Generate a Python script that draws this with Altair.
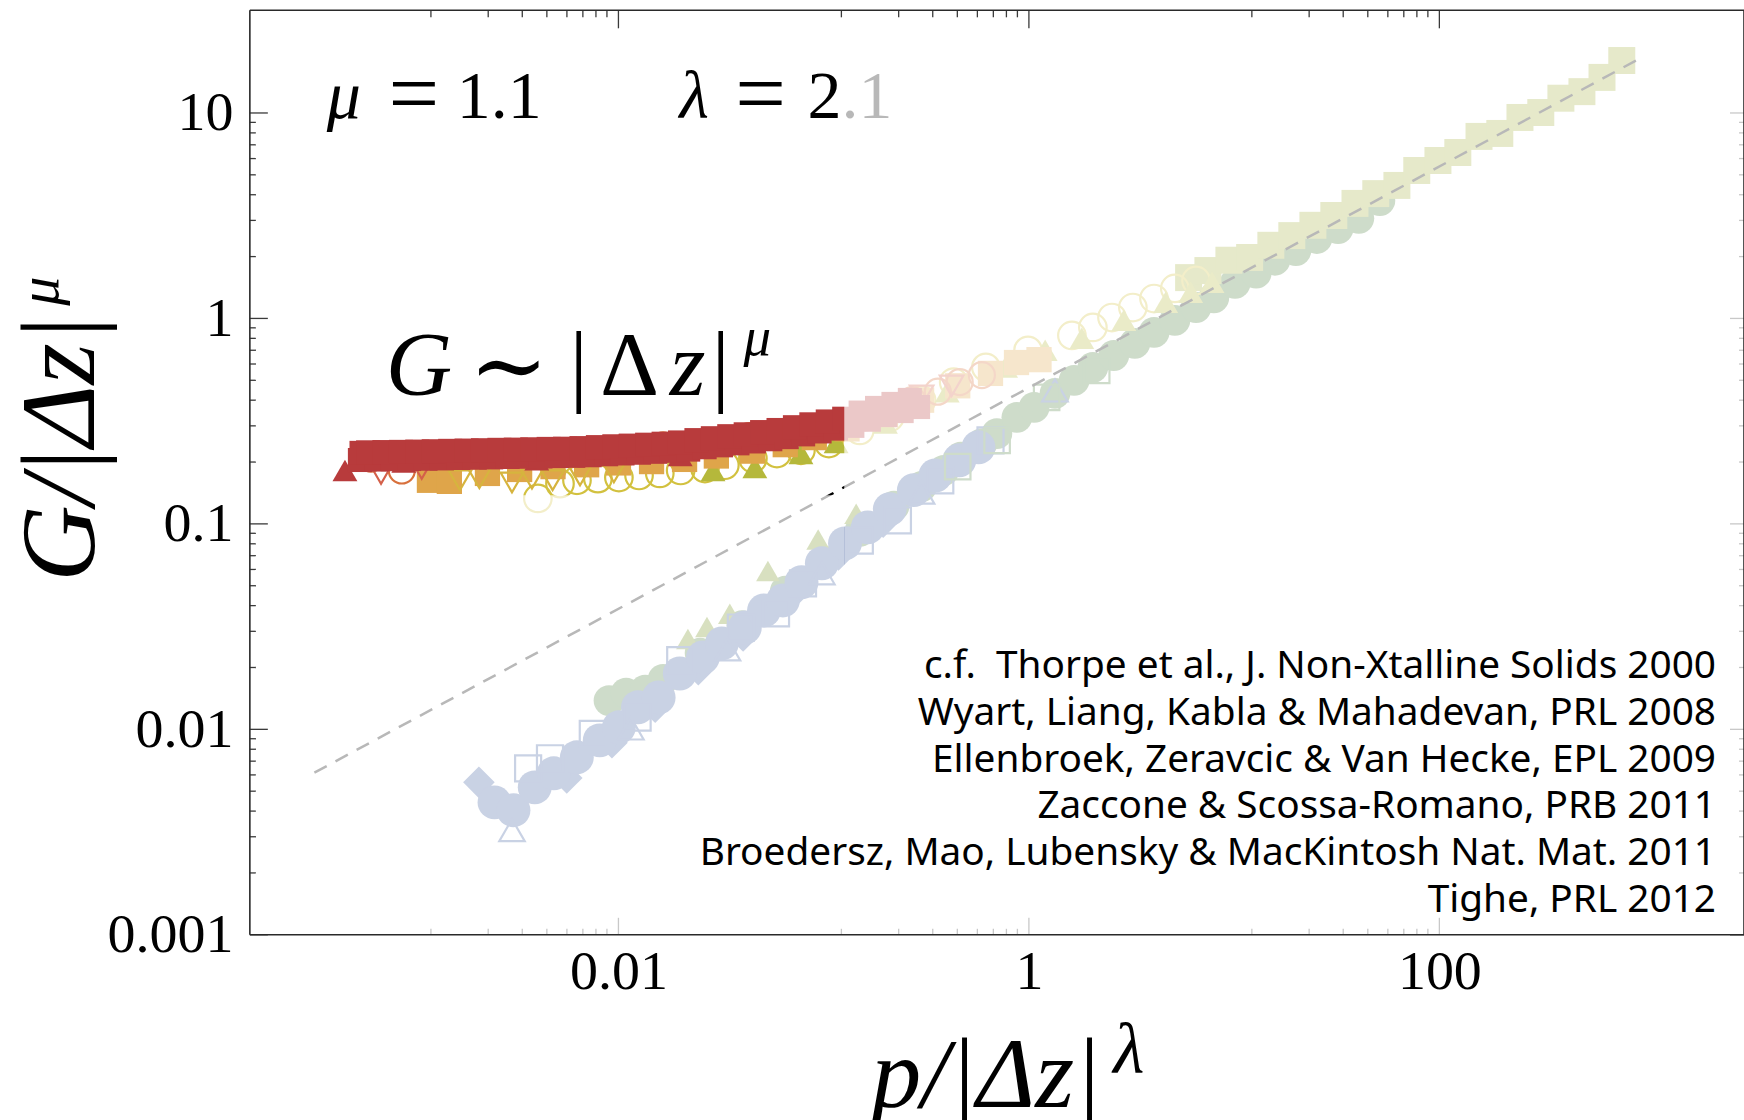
import altair as alt
import pandas as pd

# ---------------------------------------------------------------- layout
W, H = 1495, 925
PAD = {"left": 250, "top": 10, "right": 0, "bottom": 185}
SERIF = "Liberation Serif"
MATH = "DejaVu Serif"
SANS = "Noto Sans"

x_domain = [1.6e-4, 3050]
y_domain = [1e-3, 31.6]

x_major = [0.01, 1, 100]
x_minor = [0.00122, 0.00232, 0.0034, 0.00448, 0.00561, 0.00671, 0.00777, 0.00879,
           0.122, 0.232, 0.34, 0.448, 0.561, 0.671, 0.777, 0.879,
           12.2, 23.2, 34.0, 44.8, 56.1, 67.1, 77.7, 87.9]
y_major = [0.001, 0.01, 0.1, 1, 10]
y_minor = [0.002, 0.003, 0.004, 0.005, 0.006, 0.007, 0.008, 0.009,
           0.02, 0.03, 0.04, 0.05, 0.06, 0.07, 0.08, 0.09,
           0.2, 0.3, 0.4, 0.5, 0.6, 0.7, 0.8, 0.9,
           2, 3, 4, 5, 6, 7, 8, 9]

# highlighted (unfaded) corner of the plot: x below / y above these bounds
hl_xmin, hl_xmax, hl_ymin = 2.0e-4, 0.126, 0.138

# power-law guide  G ~ p^(mu/lambda)
fit_x = [3.3e-4, 946]
fit_y = [0.00615, 18.4]

# ---------------------------------------------------------------- lower branch
green_circ_x = [0.009, 0.0109, 0.0135, 0.0165, 0.025, 0.04, 0.065, 0.1, 0.15, 0.22, 0.30,
                0.385, 0.466, 0.590, 0.698, 0.874, 1.06, 1.34, 1.66, 2.05, 2.59, 3.28,
                4.07, 5.14, 6.52, 7.96, 10.1, 12.8, 15.8, 20.0, 25.3, 32.1, 40.5, 51.3]
green_circ_y = [0.0138, 0.0150, 0.0155, 0.0175, 0.0235, 0.032, 0.047, 0.066, 0.092, 0.122, 0.152,
                0.182, 0.211, 0.246, 0.275, 0.330, 0.369, 0.432, 0.499, 0.578, 0.660, 0.756,
                0.855, 0.978, 1.13, 1.26, 1.48, 1.66, 1.92, 2.14, 2.45, 2.74, 3.07, 3.75]

green_sq_x = [0.45, 0.70, 1.22, 2.14]
green_sq_y = [0.19, 0.255, 0.413, 0.558]

olive_low_x = [0.0218, 0.027, 0.0349, 0.0535, 0.094, 0.144]
olive_low_y = [0.0275, 0.0315, 0.0365, 0.059, 0.084, 0.112]

blue_diam_x = [0.00209, 0.0056, 0.0093, 0.0151, 0.0245, 0.0405, 0.069, 0.118, 0.195]
blue_diam_y = [0.00552, 0.0058, 0.0086, 0.0128, 0.0195, 0.0285, 0.0445, 0.0705, 0.102]

blue_circ_x = [0.00249, 0.00308, 0.00391, 0.00484, 0.00627, 0.00811, 0.01005, 0.01245,
               0.0157, 0.0199, 0.0258, 0.0319, 0.0413, 0.0512, 0.0633, 0.078, 0.098,
               0.127, 0.164, 0.21, 0.275, 0.35, 0.458, 0.568]
blue_circ_y = [0.00441, 0.00404, 0.00522, 0.00611, 0.00731, 0.00884, 0.01023, 0.0128,
               0.0143, 0.0187, 0.0224, 0.0262, 0.0313, 0.0379, 0.0424, 0.052, 0.0643,
               0.0804, 0.0962, 0.118, 0.146, 0.172, 0.204, 0.236]

blue_sq_x = [0.00363, 0.00464, 0.0075, 0.0124, 0.020, 0.0395, 0.0586, 0.0793, 0.15, 0.23, 0.37, 0.65]
blue_sq_y = [0.00646, 0.00723, 0.0095, 0.0114, 0.0217, 0.0313, 0.0367, 0.0513, 0.083, 0.104, 0.163, 0.255]

blue_tri_x = [0.00303, 0.0115, 0.034, 0.098, 0.30, 1.34]
blue_tri_y = [0.00323, 0.0101, 0.0245, 0.0575, 0.142, 0.446]

# ---------------------------------------------------------------- upper branch
yg_sq_x = [6.0, 7.45, 9.43, 11.9, 15.1, 19.1, 24.2, 30.6, 38.8, 49.0, 62.1, 77.6, 98.4,
           123, 156, 197, 247, 312, 391, 495, 620, 774]
yg_sq_y = [1.58, 1.71, 1.92, 1.98, 2.27, 2.53, 2.84, 3.17, 3.63, 4.05, 4.44, 5.25, 5.87,
           6.42, 7.69, 7.95, 9.51, 10.05, 11.8, 12.7, 14.9, 18.0]

yel_circ_x = [0.00405, 0.00519, 0.00628, 0.00794, 0.01005, 0.0126, 0.0159, 0.0201, 0.0264,
              0.033, 0.0452, 0.0592, 0.0775, 0.106, 0.15, 0.21, 0.30, 0.43, 0.617, 0.99,
              1.62, 2.05, 2.54, 3.21, 4.07, 5.14, 6.52]
yel_circ_y = [0.133, 0.157, 0.163, 0.166, 0.168, 0.172, 0.176, 0.182, 0.186,
              0.193, 0.208, 0.220, 0.228, 0.246, 0.285, 0.33, 0.40, 0.49, 0.578, 0.699,
              0.826, 0.904, 1.01, 1.13, 1.25, 1.40, 1.53]

olive_tri_x = [0.0289, 0.0462, 0.0775, 0.115, 0.2, 0.4, 0.77, 1.2, 1.81, 2.9, 4.64, 6.14, 7.8]
olive_tri_y = [0.182, 0.188, 0.220, 0.249, 0.31, 0.44, 0.58, 0.70, 0.80, 0.98, 1.20, 1.34, 1.50]

orange_sq_x = [0.0012, 0.0015, 0.0023, 0.0033, 0.0048, 0.007, 0.010, 0.0145, 0.021, 0.03,
               0.045, 0.065, 0.09, 0.13, 0.2, 0.3, 0.45, 0.65, 0.87, 1.12]
orange_sq_y = [0.163, 0.161, 0.176, 0.184, 0.19, 0.194, 0.198, 0.201, 0.206, 0.214,
               0.226, 0.243, 0.263, 0.29, 0.34, 0.40, 0.47, 0.54, 0.61, 0.63]

yel_vtri_x = [0.00169, 0.0021, 0.00303, 0.00379, 0.00478, 0.0065, 0.0095]
yel_vtri_y = [0.163, 0.167, 0.159, 0.166, 0.163, 0.172, 0.178]

orange_circ_x = [0.00088, 0.000622, 0.0011, 0.00198, 0.0029, 0.00444, 0.00561, 0.0104, 0.0165,
                 0.0226, 0.0295, 0.0433, 0.0592, 0.0838, 0.115, 0.16, 0.21, 0.27, 0.36,
                 0.46, 0.59]
orange_circ_y = [0.182, 0.208, 0.216, 0.216, 0.220, 0.220, 0.225, 0.233, 0.241,
                 0.246, 0.252, 0.267, 0.276, 0.292, 0.308, 0.33, 0.365, 0.40, 0.44,
                 0.49, 0.53]

red_vtri_x = [0.000697, 0.0011, 0.30, 0.42]
red_vtri_y = [0.176, 0.186, 0.42, 0.47]

red_tri_x = [0.000465, 0.0009, 0.004, 0.02]
red_tri_y = [0.182, 0.20, 0.205, 0.215]

red_sq_lo_x = [5.50e-4, 6.61e-4, 7.94e-4, 9.55e-4, 1.148e-3, 1.380e-3, 1.660e-3, 1.995e-3,
               2.399e-3, 2.884e-3, 3.467e-3, 4.169e-3, 5.012e-3, 6.026e-3, 7.244e-3, 8.710e-3,
               0.01047, 0.01259, 0.01514, 0.01820, 0.02188, 0.02630, 0.03162, 0.03802,
               0.04571, 0.05495, 0.06607, 0.07943, 0.09550, 0.1148, 0.1380, 0.1660,
               0.1995, 0.2399, 0.2884]
red_sq_lo_y = [0.2046, 0.2057, 0.2064, 0.2069, 0.2076, 0.2083, 0.2093, 0.2100,
               0.2107, 0.2117, 0.2122, 0.2129, 0.2139, 0.2144, 0.2158, 0.2182,
               0.2202, 0.2220, 0.2243, 0.2268, 0.2299, 0.2361, 0.2412, 0.2466,
               0.2519, 0.2582, 0.2644, 0.2727, 0.2818, 0.2909, 0.3000, 0.3214,
               0.3386, 0.3540, 0.3704]
red_sq_hi_x = [5.60e-4, 6.03e-4, 7.24e-4, 8.71e-4, 1.047e-3, 1.259e-3, 1.514e-3, 1.820e-3,
               2.188e-3, 2.630e-3, 3.162e-3, 3.802e-3, 4.571e-3, 5.495e-3, 6.607e-3, 7.943e-3,
               9.550e-3, 0.01148, 0.01380, 0.01660, 0.01995, 0.02399, 0.02884, 0.03467,
               0.04169, 0.05012, 0.06026, 0.07244, 0.08710, 0.1047, 0.1259, 0.1514,
               0.1820, 0.2188, 0.2630]
red_sq_hi_y = [0.2216, 0.2229, 0.2236, 0.2241, 0.2248, 0.2257, 0.2267, 0.2274,
               0.2283, 0.2293, 0.2298, 0.2307, 0.2317, 0.2322, 0.2338, 0.2364,
               0.2386, 0.2404, 0.2429, 0.2456, 0.2491, 0.2557, 0.2612, 0.2672,
               0.2729, 0.2798, 0.2864, 0.2955, 0.3052, 0.3151, 0.3250, 0.3482,
               0.3668, 0.3836, 0.4012]

citations = [
    "c.f.\u00a0 Thorpe et al., J. Non-Xtalline Solids 2000",
    "Wyart, Liang, Kabla & Mahadevan, PRL 2008",
    "Ellenbroek, Zeravcic & Van Hecke, EPL 2009",
    "Zaccone & Scossa-Romano, PRB 2011",
    "Broedersz, Mao, Lubensky & MacKintosh Nat. Mat. 2011",
    "Tighe, PRL 2012",
]

# ---------------------------------------------------------------- helpers
x_scale = alt.Scale(type="log", domain=x_domain, nice=False)
y_scale = alt.Scale(type="log", domain=y_domain, nice=False)
axis_style = dict(format="~g", ticks=False, domain=False, grid=False, labelFont=SERIF,
                  labelFontSize=56, labelColor="black", labelFlush=False, title=None)
x_axis = alt.Axis(values=x_major, labelPadding=10, **axis_style)
y_axis = alt.Axis(values=y_major, labelPadding=17, **axis_style)


def X(field):
    return alt.X(field, type="quantitative", scale=x_scale, axis=x_axis)


def Y(field):
    return alt.Y(field, type="quantitative", scale=y_scale, axis=y_axis)


def points(xs, ys, shape, color, size, filled=True, sw=2.2):
    df = pd.DataFrame({"x": xs, "y": ys})
    if filled:
        mark = alt.Chart(df).mark_point(shape=shape, filled=True, size=size, opacity=1,
                                        color=color)
    else:
        mark = alt.Chart(df).mark_point(shape=shape, filled=False, size=size, opacity=1,
                                        color=color, strokeWidth=sw)
    return mark.encode(x=X("x"), y=Y("y"))


ONE = pd.DataFrame({"k": [0]})


def label(text, x, y, size, font=SERIF, style=None, align="left", angle=None,
          color="black", baseline="alphabetic"):
    kw = dict(text=text, fontSize=size, font=font, align=align, baseline=baseline, color=color)
    if style:
        kw["fontStyle"] = style
    if angle is not None:
        kw["angle"] = angle
    return alt.Chart(ONE).mark_text(**kw).encode(x=alt.value(x), y=alt.value(y))


TICK = "#3a3a3a"


def xticks(values, length, top=False):
    y0, y1 = (0, length) if top else (H, H - length)
    return alt.Chart(pd.DataFrame({"v": values})).mark_rule(color=TICK, strokeWidth=1.3).encode(
        x=X("v"), y=alt.value(y0), y2=alt.value(y1))


def yticks(values, length, right=False):
    x0, x1 = (W, W - length) if right else (0, length)
    return alt.Chart(pd.DataFrame({"v": values})).mark_rule(color=TICK, strokeWidth=1.3).encode(
        y=Y("v"), x=alt.value(x0), x2=alt.value(x1))


def hline(y):
    return alt.Chart(ONE).mark_rule(color="#2a2a2a", strokeWidth=1.6).encode(
        x=alt.value(0), x2=alt.value(W), y=alt.value(y))


def vline(x):
    return alt.Chart(ONE).mark_rule(color="#2a2a2a", strokeWidth=1.6).encode(
        x=alt.value(x), y=alt.value(0), y2=alt.value(H))


RED = "#B83B3C"
ORANGE = "#D8703C"
ORANGE_SQ = "#DFA54A"
YELLOW = "#D2C13F"
YEL_TRI = "#D6B43E"
OLIVE = "#B5B83B"
YG = "#A4B040"
GREEN = "#4F8042"
BLUE = "#3E5D9E"
OLIVE_LOW = "#73901E"

layers = [
    # lower branch
    points(green_circ_x, green_circ_y, "circle", GREEN, 950),
    points(olive_low_x, olive_low_y, "triangle-up", OLIVE_LOW, 560),
    points(blue_diam_x, blue_diam_y, "diamond", BLUE, 1000),
    points(blue_circ_x, blue_circ_y, "circle", BLUE, 1150),
    points(blue_sq_x, blue_sq_y, "square", BLUE, 680, filled=False),
    points(blue_tri_x, blue_tri_y, "triangle-up", BLUE, 650, filled=False),
    points(green_sq_x, green_sq_y, "square", GREEN, 650, filled=False),
    # upper branch
    points(yg_sq_x, yg_sq_y, "square", YG, 729),
    points(yel_circ_x, yel_circ_y, "circle", YELLOW, 760, filled=False),
    points(olive_tri_x, olive_tri_y, "triangle-up", OLIVE, 620),
    points(orange_sq_x, orange_sq_y, "square", ORANGE_SQ, 640),
    points(yel_vtri_x, yel_vtri_y, "triangle-down", YEL_TRI, 520, filled=False),
    points(orange_circ_x, orange_circ_y, "circle", ORANGE, 680, filled=False),
    points(red_vtri_x, red_vtri_y, "triangle-down", "#D4604A", 560, filled=False),
    points(red_tri_x, red_tri_y, "triangle-up", RED, 620),
    points(red_sq_lo_x, red_sq_lo_y, "square", RED, 580),
    points(red_sq_hi_x, red_sq_hi_y, "square", RED, 580),
    # power-law guide
    alt.Chart(pd.DataFrame({"x": fit_x, "y": fit_y})).mark_line(
        color="black", strokeWidth=2.5, strokeDash=[14, 10]).encode(x=X("x"), y=Y("y")),
    # frame ticks (inward)
    xticks(x_major, 17), xticks(x_minor, 6),
    xticks(x_major, 18, top=True), xticks(x_minor, 7, top=True),
    yticks(y_major, 18), yticks(y_minor, 6),
    yticks(y_major, 14, right=True), yticks(y_minor, 5, right=True),
    # exponents (the ".1" sits under the fade)
    label("\u03bb", 430, 108, 68, style="italic"),
    label("=", 511, 114, 90, align="center"),
    label("2.1", 558, 108, 68),
]

# white veil over everything outside the highlighted corner
layers += [
    alt.Chart(pd.DataFrame({"x": [hl_xmax]})).mark_rect(color="white", opacity=0.72).encode(
        x=X("x"), x2=alt.value(W), y=alt.value(20), y2=alt.value(H)),
    alt.Chart(pd.DataFrame({"x": [hl_xmin], "x2": [hl_xmax], "y": [hl_ymin]})).mark_rect(
        color="white", opacity=0.72).encode(x=X("x"), x2="x2:Q", y=Y("y"), y2=alt.value(H)),
]

# frame
layers += [hline(0), hline(H), vline(0), vline(W)]

# annotations
layers += [
    label("\u03bc", 77, 108, 68, style="italic"),
    label("=", 164, 114, 90, align="center"),
    label("1.1", 207, 108, 68),
    label("G", 136, 385, 92, style="italic"),
    label("\u223c", 259, 388, 95, font=MATH, align="center"),
    label("|", 329, 385, 92, align="center"),
    label("\u0394", 380, 385, 92, align="center"),
    label("z", 438, 385, 92, style="italic", align="center"),
    label("|", 471, 385, 92, align="center"),
    label("\u03bc", 494, 345, 55, style="italic"),
    # axis titles
    label("G/|\u0394z|", -156, 438, 106, style="italic", align="center", angle=270),
    label("\u03bc", -192, 281, 58, style="italic", align="center", angle=270),
    label("p/|\u0394z|", 737, 1097, 100, style="italic", align="center"),
    label("\u03bb", 864, 1063, 72, style="italic"),
]
for i, line in enumerate(citations):
    layers.append(label(line, 1467, 668.5 + 46.7 * i, 38.8, font=SANS, align="right"))

chart = alt.layer(*layers).properties(
    width=W, height=H, padding=PAD, autosize=alt.AutoSizeParams(type="none"),
    background="white",
).configure_view(stroke=None)

chart.save("out.html", embed_options={"renderer": "svg", "actions": False})
